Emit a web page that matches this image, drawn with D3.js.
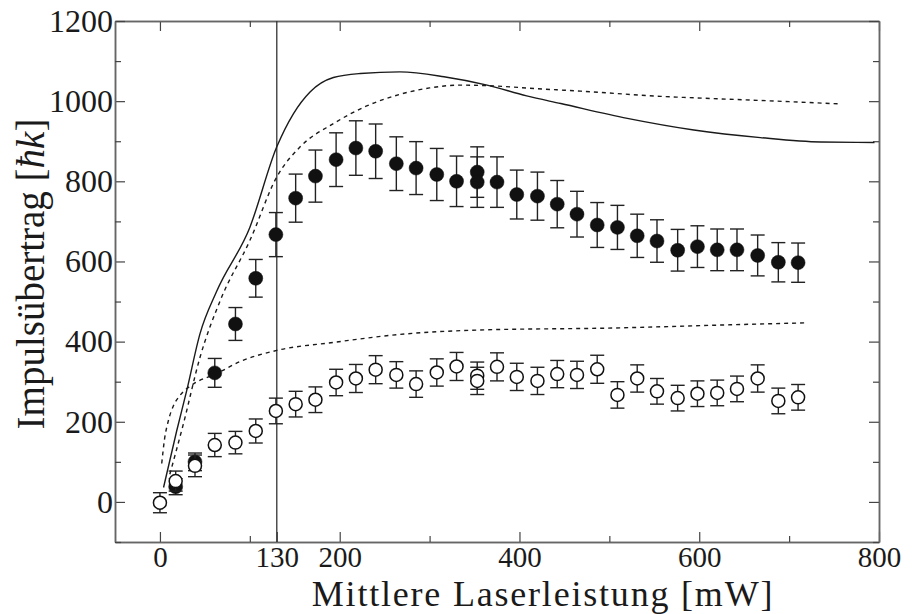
<!DOCTYPE html>
<html>
<head>
<meta charset="utf-8">
<script src="https://cdn.jsdelivr.net/npm/d3@7"></script>
<style>
  body { margin: 0; background: #fff; }
  text { fill: #1a1a1a; }
</style>
</head>
<body>
<svg class="chart" width="912" height="614"></svg>
<script>
// Measured points: x = mittlere Laserleistung [mW], y = Impulsuebertrag [hbar k], e = error bar half width
let filledX = [17.5, 39, 61, 84, 106.6, 129, 151, 173, 196, 218, 240, 263, 285, 308, 330, 353, 353, 375, 397, 420, 442, 464, 486.5, 509, 531, 553, 576, 598, 620, 642, 665, 688, 710];
let filledY = [38, 100, 322, 444, 558, 667, 758, 813, 854, 883, 875, 844, 833, 817, 800, 823, 798, 798, 767, 763, 743, 718, 691, 685, 664, 651, 628, 637, 629, 629, 615, 598, 597];
let filledE = [20, 22, 36, 41, 47, 55, 60, 65, 67, 68, 68, 67, 66, 65, 63, 63, 63, 63, 61, 60, 59, 57, 56, 55, 54, 53, 52, 52, 52, 52, 51, 49, 49];

let openX = [0, 17.5, 39, 61, 84, 106.6, 129, 151, 173, 196, 218, 240, 263, 285, 308, 330, 353, 353, 375, 397, 420, 442, 464, 486.5, 509, 531, 553, 576, 598, 620, 642, 665, 688, 710];
let openY = [-2, 52, 90, 142, 148, 177, 227, 244, 255, 298, 308, 330, 317, 294, 323, 338, 315, 302, 337, 312, 302, 319, 317, 331, 267, 308, 276, 259, 270, 272, 282, 308, 252, 261];
let openE = [25, 25, 27, 29, 28, 30, 32, 32, 32, 33, 35, 35, 33, 33, 34, 35, 34, 34, 35, 34, 34, 34, 34, 35, 33, 34, 32, 32, 32, 32, 32, 34, 32, 32];

// Theory curves
let solidX = [4, 18.6, 29.7, 44.6, 63, 100, 130, 148.6, 167, 193, 223, 267, 316, 364, 408, 446, 520, 594, 668, 735, 795];
let solidY = [36, 177, 277, 420, 525, 685, 886, 969, 1023, 1059, 1069, 1073, 1061, 1040, 1013, 994, 957, 928, 909, 898, 897];

let dashUpX = [11, 26, 44.6, 67, 100, 130, 156, 193, 230, 267, 300, 334, 371, 420, 468, 557, 620, 676, 758];
let dashUpY = [69, 194, 361, 502, 652, 811, 886, 944, 988, 1017, 1033, 1040, 1038, 1031, 1025, 1012, 1006, 1001, 993];

let dashLowX = [2, 5, 9.3, 15, 22, 37, 63, 89, 130, 193, 267, 356, 505, 635, 721];
let dashLowY = [96, 155, 202, 240, 265, 294, 320, 350, 378, 398, 418, 429, 434, 442, 447];

let xTicks = [0, 130, 200, 400, 600, 800];
let xMinor = [100, 300, 500, 700];
let yTicks = [0, 200, 400, 600, 800, 1000, 1200];
let yMinor = [-100, 100, 300, 500, 700, 900, 1100];

let serif = "'Liberation Serif', 'DejaVu Serif', serif";

function drawChart() {
	var svg = d3.select(".chart");
	var width = +svg.attr("width");
	var height = +svg.attr("height");

	let margin = {left: 115, right: 33, top: 21, bottom: 72};
	let innerWidth = width - margin.left - margin.right;
	let innerHeight = height - margin.top - margin.bottom;

	var xScale = d3.scaleLinear().domain([-50, 800]).range([0, innerWidth]);
	var yScale = d3.scaleLinear().domain([-100, 1200]).range([innerHeight, 0]);

	let g = svg.append("g")
	           .attr("transform", `translate(${margin.left}, ${margin.top})`);

	// frame with inward ticks on all four sides
	g.append("g")
	 .attr("transform", `translate(0, ${innerHeight})`)
	 .call(d3.axisBottom(xScale).tickValues(xTicks).tickFormat(d3.format("d"))
	         .tickSize(-10).tickSizeOuter(0).tickPadding(4))
	 .selectAll("text").attr("font-size", 29).attr("font-family", serif).attr("fill", "#1a1a1a");
	g.append("g")
	 .attr("transform", `translate(0, ${innerHeight})`)
	 .call(d3.axisBottom(xScale).tickValues(xMinor).tickSize(-6).tickSizeOuter(0).tickFormat(""));
	g.append("g")
	 .call(d3.axisTop(xScale).tickValues(xTicks.filter(d => d != 130)).tickSize(-10).tickSizeOuter(0).tickFormat(""));
	g.append("g")
	 .call(d3.axisTop(xScale).tickValues(xMinor).tickSize(-6).tickSizeOuter(0).tickFormat(""));

	g.append("g")
	 .call(d3.axisLeft(yScale).tickValues(yTicks).tickFormat(d3.format("d"))
	         .tickSize(-10).tickSizeOuter(0).tickPadding(2))
	 .selectAll("text").attr("font-size", 32).attr("font-family", serif).attr("fill", "#1a1a1a");
	g.append("g")
	 .call(d3.axisLeft(yScale).tickValues(yMinor).tickSize(-6).tickSizeOuter(0).tickFormat(""));
	g.append("g")
	 .attr("transform", `translate(${innerWidth}, 0)`)
	 .call(d3.axisRight(yScale).tickValues(yTicks).tickSize(-10).tickSizeOuter(0).tickFormat(""));
	g.append("g")
	 .attr("transform", `translate(${innerWidth}, 0)`)
	 .call(d3.axisRight(yScale).tickValues(yMinor).tickSize(-6).tickSizeOuter(0).tickFormat(""));

	g.selectAll(".domain").attr("stroke", "#666").attr("stroke-width", 1.5);
	g.selectAll(".tick line").attr("stroke", "#444").attr("stroke-width", 1.2);

	// threshold line at 130 mW
	g.append("line")
	 .attr("x1", xScale(130)).attr("x2", xScale(130))
	 .attr("y1", 0).attr("y2", innerHeight)
	 .attr("stroke", "#333").attr("stroke-width", 1.3);

	// curves
	let line = d3.line()
	             .x(d => xScale(d[0]))
	             .y(d => yScale(d[1]))
	             .curve(d3.curveMonotoneX);

	g.append("path")
	 .datum(d3.zip(solidX, solidY))
	 .attr("fill", "none").attr("stroke", "#1a1a1a").attr("stroke-width", 1.4)
	 .attr("d", line);
	g.append("path")
	 .datum(d3.zip(dashUpX, dashUpY))
	 .attr("fill", "none").attr("stroke", "#1a1a1a").attr("stroke-width", 1.4)
	 .attr("stroke-dasharray", "4,4")
	 .attr("d", line);
	g.append("path")
	 .datum(d3.zip(dashLowX, dashLowY))
	 .attr("fill", "none").attr("stroke", "#1a1a1a").attr("stroke-width", 1.4)
	 .attr("stroke-dasharray", "4,4")
	 .attr("d", line);

	// error bars and markers
	function drawSeries(xs, ys, es, filled) {
		let pts = d3.zip(xs, ys, es);
		let cap = 7;
		let eb = g.append("g").attr("stroke", "#222").attr("stroke-width", 1.4);
		for (let i = 0; i < pts.length; i++) {
			let [x, y, e] = pts[i];
			let cx = xScale(x);
			eb.append("line").attr("x1", cx).attr("x2", cx)
			  .attr("y1", yScale(y + e)).attr("y2", yScale(y - e));
			eb.append("line").attr("x1", cx - cap).attr("x2", cx + cap)
			  .attr("y1", yScale(y + e)).attr("y2", yScale(y + e));
			eb.append("line").attr("x1", cx - cap).attr("x2", cx + cap)
			  .attr("y1", yScale(y - e)).attr("y2", yScale(y - e));
		}
		g.append("g").selectAll("circle")
		 .data(pts)
		 .enter()
		 .append("circle")
		 .attr("cx", d => xScale(d[0]))
		 .attr("cy", d => yScale(d[1]))
		 .attr("r", filled ? 7 : 6.5)
		 .attr("fill", filled ? "#111" : "#fff")
		 .attr("stroke", "#111")
		 .attr("stroke-width", filled ? 0.5 : 1.5);
	}
	drawSeries(filledX, filledY, filledE, true);
	drawSeries(openX, openY, openE, false);

	// axis titles
	svg.append("text")
	   .attr("text-anchor", "middle")
	   .attr("font-family", serif)
	   .attr("letter-spacing", 1.8)
	   .attr("x", 543)
	   .attr("y", 605.5)
	   .attr("font-size", 36)
	   .text("Mittlere Laserleistung [mW]");

	let yl = svg.append("text")
	   .attr("text-anchor", "middle")
	   .attr("font-family", serif)
	   .attr("transform", "translate(44, 274) rotate(-90)")
	   .attr("font-size", 39);
	yl.append("tspan").text("Impulsübertrag [");
	yl.append("tspan").attr("font-style", "italic").text("ħk");
	yl.append("tspan").text("]");
}

drawChart();
</script>
</body>
</html>
